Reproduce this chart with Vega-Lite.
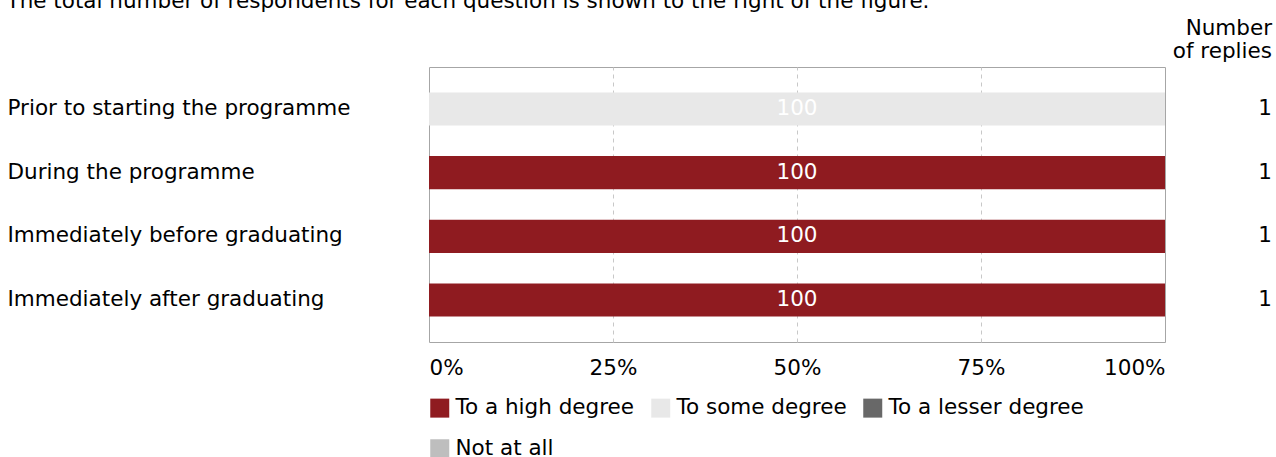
{
  "$schema": "https://vega.github.io/schema/vega-lite/v6.json",
  "padding": {"left": 6, "right": 6, "top": -9, "bottom": 0},
  "background": "white",
  "title": {
    "text": "The total number of respondents for each question is shown to the right of the figure.",
    "anchor": "start", "frame": "bounds", "fontSize": 21.5, "fontWeight": "normal",
    "color": "#000000", "dy": -3, "offset": 2
  },
  "datasets": {
    "responses": [
      {"question": "Prior to starting the programme", "response": "To a high degree", "order": 1, "pct": 0},
      {"question": "Prior to starting the programme", "response": "To some degree", "order": 2, "pct": 100},
      {"question": "Prior to starting the programme", "response": "To a lesser degree", "order": 3, "pct": 0},
      {"question": "Prior to starting the programme", "response": "Not at all", "order": 4, "pct": 0},
      {"question": "During the programme", "response": "To a high degree", "order": 1, "pct": 100},
      {"question": "During the programme", "response": "To some degree", "order": 2, "pct": 0},
      {"question": "During the programme", "response": "To a lesser degree", "order": 3, "pct": 0},
      {"question": "During the programme", "response": "Not at all", "order": 4, "pct": 0},
      {"question": "Immediately before graduating", "response": "To a high degree", "order": 1, "pct": 100},
      {"question": "Immediately before graduating", "response": "To some degree", "order": 2, "pct": 0},
      {"question": "Immediately before graduating", "response": "To a lesser degree", "order": 3, "pct": 0},
      {"question": "Immediately before graduating", "response": "Not at all", "order": 4, "pct": 0},
      {"question": "Immediately after graduating", "response": "To a high degree", "order": 1, "pct": 100},
      {"question": "Immediately after graduating", "response": "To some degree", "order": 2, "pct": 0},
      {"question": "Immediately after graduating", "response": "To a lesser degree", "order": 3, "pct": 0},
      {"question": "Immediately after graduating", "response": "Not at all", "order": 4, "pct": 0}
    ],
    "replies": [
      {"question": "Prior to starting the programme", "n": 1},
      {"question": "During the programme", "n": 1},
      {"question": "Immediately before graduating", "n": 1},
      {"question": "Immediately after graduating", "n": 1}
    ]
  },
  "spacing": 0,
  "hconcat": [
    {
      "width": 736,
      "height": 275,
      "data": {"name": "responses"},
      "transform": [
        {"stack": "pct", "groupby": ["question"], "sort": [{"field": "order"}], "as": ["x0", "x1"]}
      ],
      "encoding": {
        "y": {
          "field": "question", "type": "nominal",
          "sort": ["Prior to starting the programme", "During the programme", "Immediately before graduating", "Immediately after graduating"],
          "scale": {"type": "band", "paddingInner": 0.48, "paddingOuter": 0.4},
          "axis": {
            "title": null, "domain": false, "ticks": false, "tickSize": 0,
            "labelAlign": "left", "labelPadding": 422, "labelFontSize": 21.5,
            "labelColor": "#000000", "labelLimit": 0
          }
        }
      },
      "layer": [
        {
          "mark": {"type": "bar"},
          "encoding": {
            "x": {
              "field": "x0", "type": "quantitative",
              "scale": {"domain": [0, 100], "nice": false},
              "axis": {
                "title": null, "values": [0, 25, 50, 75, 100],
                "labelExpr": "datum.value + '%'", "labelFlush": true,
                "domain": false, "ticks": false, "tickSize": 0, "labelPadding": 15,
                "labelFontSize": 21.5, "labelColor": "#000000",
                "grid": true, "gridDash": [4, 4], "gridColor": "#c8c8c8",
                "gridOpacity": {"condition": {"test": "datum.value == 0 || datum.value == 100", "value": 0}, "value": 1}
              }
            },
            "x2": {"field": "x1"},
            "color": {
              "field": "response", "type": "nominal",
              "scale": {
                "domain": ["To a high degree", "To some degree", "To a lesser degree", "Not at all"],
                "range": ["#8f1b20", "#e8e8e8", "#686868", "#bebebe"]
              },
              "legend": {"title": null}
            }
          }
        },
        {
          "transform": [
            {"filter": "datum.pct > 0"},
            {"calculate": "(datum.x0 + datum.x1) / 2", "as": "mid"}
          ],
          "mark": {"type": "text", "color": "#ffffff", "fontSize": 21.5},
          "encoding": {
            "x": {"field": "mid", "type": "quantitative"},
            "text": {"field": "pct", "type": "quantitative"}
          }
        }
      ]
    },
    {
      "width": 106,
      "height": 275,
      "view": {"stroke": null},
      "data": {"name": "replies"},
      "title": {
        "text": ["Number", "of replies"], "anchor": "end", "align": "right",
        "fontSize": 21.5, "fontWeight": "normal", "color": "#000000", "offset": 5, "lineHeight": 23
      },
      "mark": {"type": "text", "align": "right", "x": "width", "fontSize": 21.5, "color": "#000000"},
      "encoding": {
        "y": {
          "field": "question", "type": "nominal",
          "sort": ["Prior to starting the programme", "During the programme", "Immediately before graduating", "Immediately after graduating"],
          "scale": {"type": "band", "paddingInner": 0.48, "paddingOuter": 0.4},
          "axis": null
        },
        "text": {"field": "n", "type": "quantitative"}
      }
    }
  ],
  "resolve": {"scale": {"y": "independent"}},
  "config": {
    "font": "DejaVu Sans",
    "view": {"stroke": "#a6a6a6", "strokeWidth": 1},
    "legend": {
      "orient": "bottom", "direction": "horizontal", "columns": 3,
      "symbolType": "square", "symbolSize": 361, "symbolStrokeWidth": 0,
      "labelFontSize": 21.5, "labelColor": "#000000", "columnPadding": 15,
      "rowPadding": 18, "labelOffset": 5, "offset": 18, "labelLimit": 0
    }
  }
}
